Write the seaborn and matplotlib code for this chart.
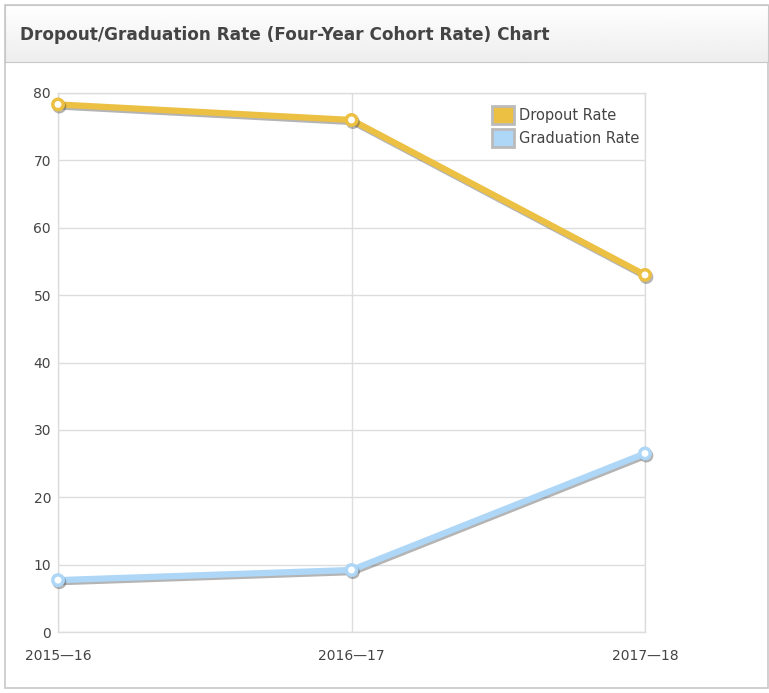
import matplotlib
matplotlib.use("Agg")
import matplotlib.pyplot as plt
import matplotlib.patheffects as pe
from matplotlib.patches import Rectangle, Patch
import seaborn as sns
import pandas as pd
import numpy as np

# Data
years = ["2015\u201416", "2016\u201417", "2017\u201418"]
dropout_rate = [78.3, 76.0, 53.0]
graduation_rate = [7.7, 9.2, 26.5]

series_names = ["Dropout Rate", "Graduation Rate"]
series_colors = ["#ECC043", "#AED6F6"]

df = pd.DataFrame({
    "year": years * 2,
    "rate": dropout_rate + graduation_rate,
    "series": [series_names[0]] * 3 + [series_names[1]] * 3,
})

sns.set_style("white")
plt.rcParams["font.family"] = ["DejaVu Sans"]

fig = plt.figure(figsize=(7.69, 6.93), dpi=100)

# panel frame + header (gradient)
fig.patches.append(Rectangle((5 / 769, 5 / 693), 763 / 769, 683 / 693, transform=fig.transFigure,
                             facecolor="white", edgecolor="#c8c8c8", lw=1.2, zorder=0))
hax = fig.add_axes([5 / 769, 1 - 62 / 693, 763 / 769, 57 / 693])
hax.set_zorder(1)
hax.imshow(np.linspace(1.0, 0.93, 50).reshape(-1, 1), cmap="gray", vmin=0, vmax=1,
           aspect="auto", extent=(0, 1, 0, 1))
hax.set_xticks([])
hax.set_yticks([])
for s in hax.spines.values():
    s.set_color("#c8c8c8")
hax.text(15 / 763, 0.47, "Dropout/Graduation Rate (Four-Year Cohort Rate) Chart",
         fontsize=12.2, fontweight="bold", color="#444444", va="center", ha="left",
         transform=hax.transAxes)

ax = fig.add_axes([58 / 769, 1 - 632 / 693, 587 / 769, 539 / 693])
ax.set_zorder(2)

for name, col in zip(series_names, series_colors):
    sub = df[df["series"] == name]
    sns.lineplot(data=sub, x="year", y="rate", ax=ax, color=col, linewidth=4.5,
                 marker="o", markersize=7.5, markerfacecolor="white", markeredgecolor=col,
                 markeredgewidth=2.5, clip_on=False, zorder=3, sort=False,
                 path_effects=[pe.SimpleLineShadow(offset=(1, -1.5), shadow_color="#444444", alpha=0.4),
                               pe.Normal()])

ax.set_xlim(0, 2)
ax.set_ylim(0, 80)
ax.set_yticks(range(0, 81, 10))
ax.set_xticks(range(3))
ax.set_xticklabels(years)
ax.set_xlabel("")
ax.set_ylabel("")
ax.grid(True, color="#dddddd", linewidth=1)
for s in ax.spines.values():
    s.set_color("#dddddd")
    s.set_linewidth(1)
ax.tick_params(axis="both", length=0, labelsize=10, colors="#444444")
ax.tick_params(axis="x", pad=12)
ax.tick_params(axis="y", pad=5)

handles = [Patch(facecolor=c, edgecolor="#bbbbbb", linewidth=2, label=n)
           for n, c in zip(series_names, series_colors)]
ax.legend(handles=handles, loc="upper right", bbox_to_anchor=(1.012, 1.0), frameon=False,
          fontsize=10.5, handlelength=1.5, handleheight=1.5, handletextpad=0.3,
          labelspacing=0.35, labelcolor="#444444")

fig.savefig("out.png", dpi=100)
